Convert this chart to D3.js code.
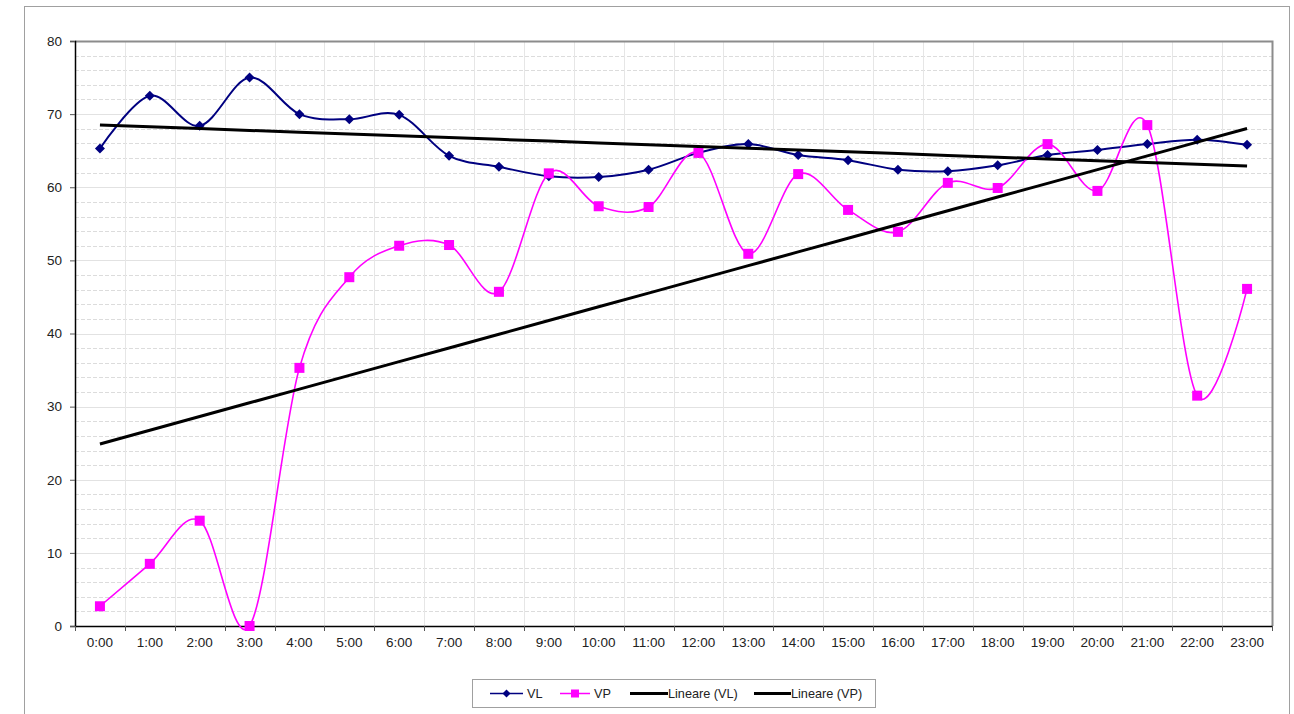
<!DOCTYPE html>
<html>
<head>
<meta charset="utf-8">
<script src="https://cdn.jsdelivr.net/npm/d3@7"></script>
<style>
  html, body { margin: 0; padding: 0; background: #fff; }
  svg { display: block; font-family: "Liberation Sans", Arial, sans-serif; }
</style>
</head>
<body>
<svg id="chart" width="1294" height="714"></svg>
<script>
const categories = ["0:00","1:00","2:00","3:00","4:00","5:00","6:00","7:00","8:00","9:00","10:00","11:00",
  "12:00","13:00","14:00","15:00","16:00","17:00","18:00","19:00","20:00","21:00","22:00","23:00"];
const vlValues = [65.3, 72.5, 68.4, 75.0, 70.0, 69.3, 69.9, 64.3, 62.8, 61.5, 61.4, 62.4,
  64.7, 65.9, 64.4, 63.7, 62.4, 62.2, 63.0, 64.4, 65.1, 65.9, 66.5, 65.8];
const vpValues = [2.7, 8.5, 14.4, 0.0, 35.3, 47.7, 52.0, 52.1, 45.7, 61.9, 57.4, 57.3,
  64.7, 50.9, 61.8, 56.9, 53.9, 60.6, 59.9, 65.9, 59.5, 68.5, 31.5, 46.1];
const yTicks = [0, 10, 20, 30, 40, 50, 60, 70, 80];
const legendLabels = ["VL", "VP", "Lineare (VL)", "Lineare (VP)"];

const svg = d3.select("#chart");
const plot = { left: 75, top: 41, right: 1272, bottom: 626 };

// outer frame
svg.append("rect").attr("x", 24.5).attr("y", 6.5).attr("width", 1265).attr("height", 720)
  .attr("fill", "#fff").attr("stroke", "#a0a0a0").attr("stroke-width", 1);

const x = d3.scaleBand().domain(categories).range([plot.left, plot.right]).padding(0);
const y = d3.scaleLinear().domain([0, 80]).range([plot.bottom, plot.top]);
const cx = d => x(d) + x.bandwidth() / 2;

// minor dashed gridlines every 2
const minor = d3.range(2, 80, 2).filter(v => v % 10 !== 0);
svg.append("g").selectAll("line").data(minor).join("line")
  .attr("x1", plot.left).attr("x2", plot.right)
  .attr("y1", d => Math.round(y(d)) + 0.5).attr("y2", d => Math.round(y(d)) + 0.5)
  .attr("stroke", "#dcdcdc").attr("stroke-dasharray", "4,2").attr("stroke-width", 1);
// major gridlines
svg.append("g").selectAll("line").data(yTicks.filter(v => v > 0 && v < 80)).join("line")
  .attr("x1", plot.left).attr("x2", plot.right)
  .attr("y1", d => Math.round(y(d)) + 0.5).attr("y2", d => Math.round(y(d)) + 0.5)
  .attr("stroke", "#e2e2e2").attr("stroke-width", 1.2);
// vertical gridlines at category boundaries
svg.append("g").selectAll("line").data(categories.slice(1)).join("line")
  .attr("x1", d => Math.round(x(d)) + 0.5).attr("x2", d => Math.round(x(d)) + 0.5)
  .attr("y1", plot.top).attr("y2", plot.bottom)
  .attr("stroke", "#e6e6e6").attr("stroke-width", 1);

// plot border top/right
svg.append("path")
  .attr("d", `M${plot.left},${plot.top + 0.5}H${plot.right + 0.5}V${plot.bottom}`)
  .attr("fill", "none").attr("stroke", "#8c8c8c").attr("stroke-width", 2);

// axes
const yAxis = d3.axisLeft(y).tickValues(yTicks).tickSize(5).tickPadding(8).tickFormat(d3.format("d"));
const gy = svg.append("g").attr("transform", `translate(${plot.left},0)`).call(yAxis);
gy.select(".domain").attr("stroke", "#000").attr("stroke-width", 1.5);
gy.selectAll(".tick line").attr("stroke", "#555");
gy.selectAll("text").attr("font-size", 13.5).attr("fill", "#222")
  .attr("font-family", "'Liberation Sans', Arial, sans-serif");

const xAxis = d3.axisBottom(x).tickSize(0).tickPadding(11);
const gx = svg.append("g").attr("transform", `translate(0,${plot.bottom})`).call(xAxis);
gx.select(".domain").attr("stroke", "#000").attr("stroke-width", 1.5);
gx.selectAll("text").attr("font-size", 13.5).attr("fill", "#222")
  .attr("font-family", "'Liberation Sans', Arial, sans-serif");
// boundary ticks
svg.append("g").selectAll("line").data(categories.concat(["__end"])).join("line")
  .attr("x1", (d, i) => Math.round(plot.left + i * x.bandwidth()) + 0.5)
  .attr("x2", (d, i) => Math.round(plot.left + i * x.bandwidth()) + 0.5)
  .attr("y1", plot.bottom).attr("y2", plot.bottom + 5)
  .attr("stroke", "#555").attr("stroke-width", 1);

// linear regression (Excel "Lineare" trendline)
function regression(vals) {
  const n = vals.length;
  const xs = d3.range(n);
  const mx = d3.mean(xs), my = d3.mean(vals);
  let num = 0, den = 0;
  xs.forEach((xi, i) => { num += (xi - mx) * (vals[i] - my); den += (xi - mx) ** 2; });
  const b = num / den, a = my - b * mx;
  return xs.map(xi => a + b * xi);
}

const smooth = d3.line().x((d, i) => cx(categories[i])).y(d => y(d)).curve(d3.curveCardinal.tension(0));
const straight = d3.line().x((d, i) => cx(categories[i])).y(d => y(d));

// series lines
svg.append("path").datum(vlValues).attr("d", smooth)
  .attr("fill", "none").attr("stroke", "#000080").attr("stroke-width", 2);
svg.append("path").datum(vpValues).attr("d", smooth)
  .attr("fill", "none").attr("stroke", "#ff00ff").attr("stroke-width", 1.6);

// markers
const diamond = s => `M0,${-s}L${s},0L0,${s}L${-s},0Z`;
svg.append("g").selectAll("path").data(vlValues).join("path")
  .attr("transform", (d, i) => `translate(${cx(categories[i])},${y(d)})`)
  .attr("d", diamond(5)).attr("fill", "#000080");
svg.append("g").selectAll("rect").data(vpValues).join("rect")
  .attr("x", (d, i) => cx(categories[i]) - 5).attr("y", d => y(d) - 5)
  .attr("width", 10).attr("height", 10).attr("fill", "#ff00ff");

// trend lines
const vlTrend = regression(vlValues);
const vpTrend = regression(vpValues);
[vlTrend, vpTrend].forEach(t => {
  svg.append("path").datum(t).attr("d", straight)
    .attr("fill", "none").attr("stroke", "#000").attr("stroke-width", 3);
});

// legend
const lg = svg.append("g");
lg.append("rect").attr("x", 472.5).attr("y", 679.5).attr("width", 403).attr("height", 28)
  .attr("fill", "#fff").attr("stroke", "#a0a0a0");
const items = [
  { x1: 490, x2: 523, tx: 527, color: "#000080", w: 1.5, marker: "diamond" },
  { x1: 560, x2: 590, tx: 594, color: "#ff00ff", w: 1.5, marker: "square" },
  { x1: 630, x2: 668, tx: 668, color: "#000", w: 3, marker: null },
  { x1: 754, x2: 791, tx: 791, color: "#000", w: 3, marker: null }
];
items.forEach((it, i) => {
  const cy = 693.5;
  lg.append("line").attr("x1", it.x1).attr("x2", it.x2).attr("y1", cy).attr("y2", cy)
    .attr("stroke", it.color).attr("stroke-width", it.w);
  const mx = (it.x1 + it.x2) / 2;
  if (it.marker === "diamond") {
    lg.append("path").attr("transform", `translate(${mx},${cy})`).attr("d", diamond(4)).attr("fill", it.color);
  } else if (it.marker === "square") {
    lg.append("rect").attr("x", mx - 4).attr("y", cy - 4).attr("width", 8).attr("height", 8).attr("fill", it.color);
  }
  lg.append("text").attr("x", it.tx).attr("y", cy).attr("dy", "0.35em")
    .attr("font-size", 12.7).attr("fill", "#222").text(legendLabels[i]);
});
</script>
</body>
</html>
